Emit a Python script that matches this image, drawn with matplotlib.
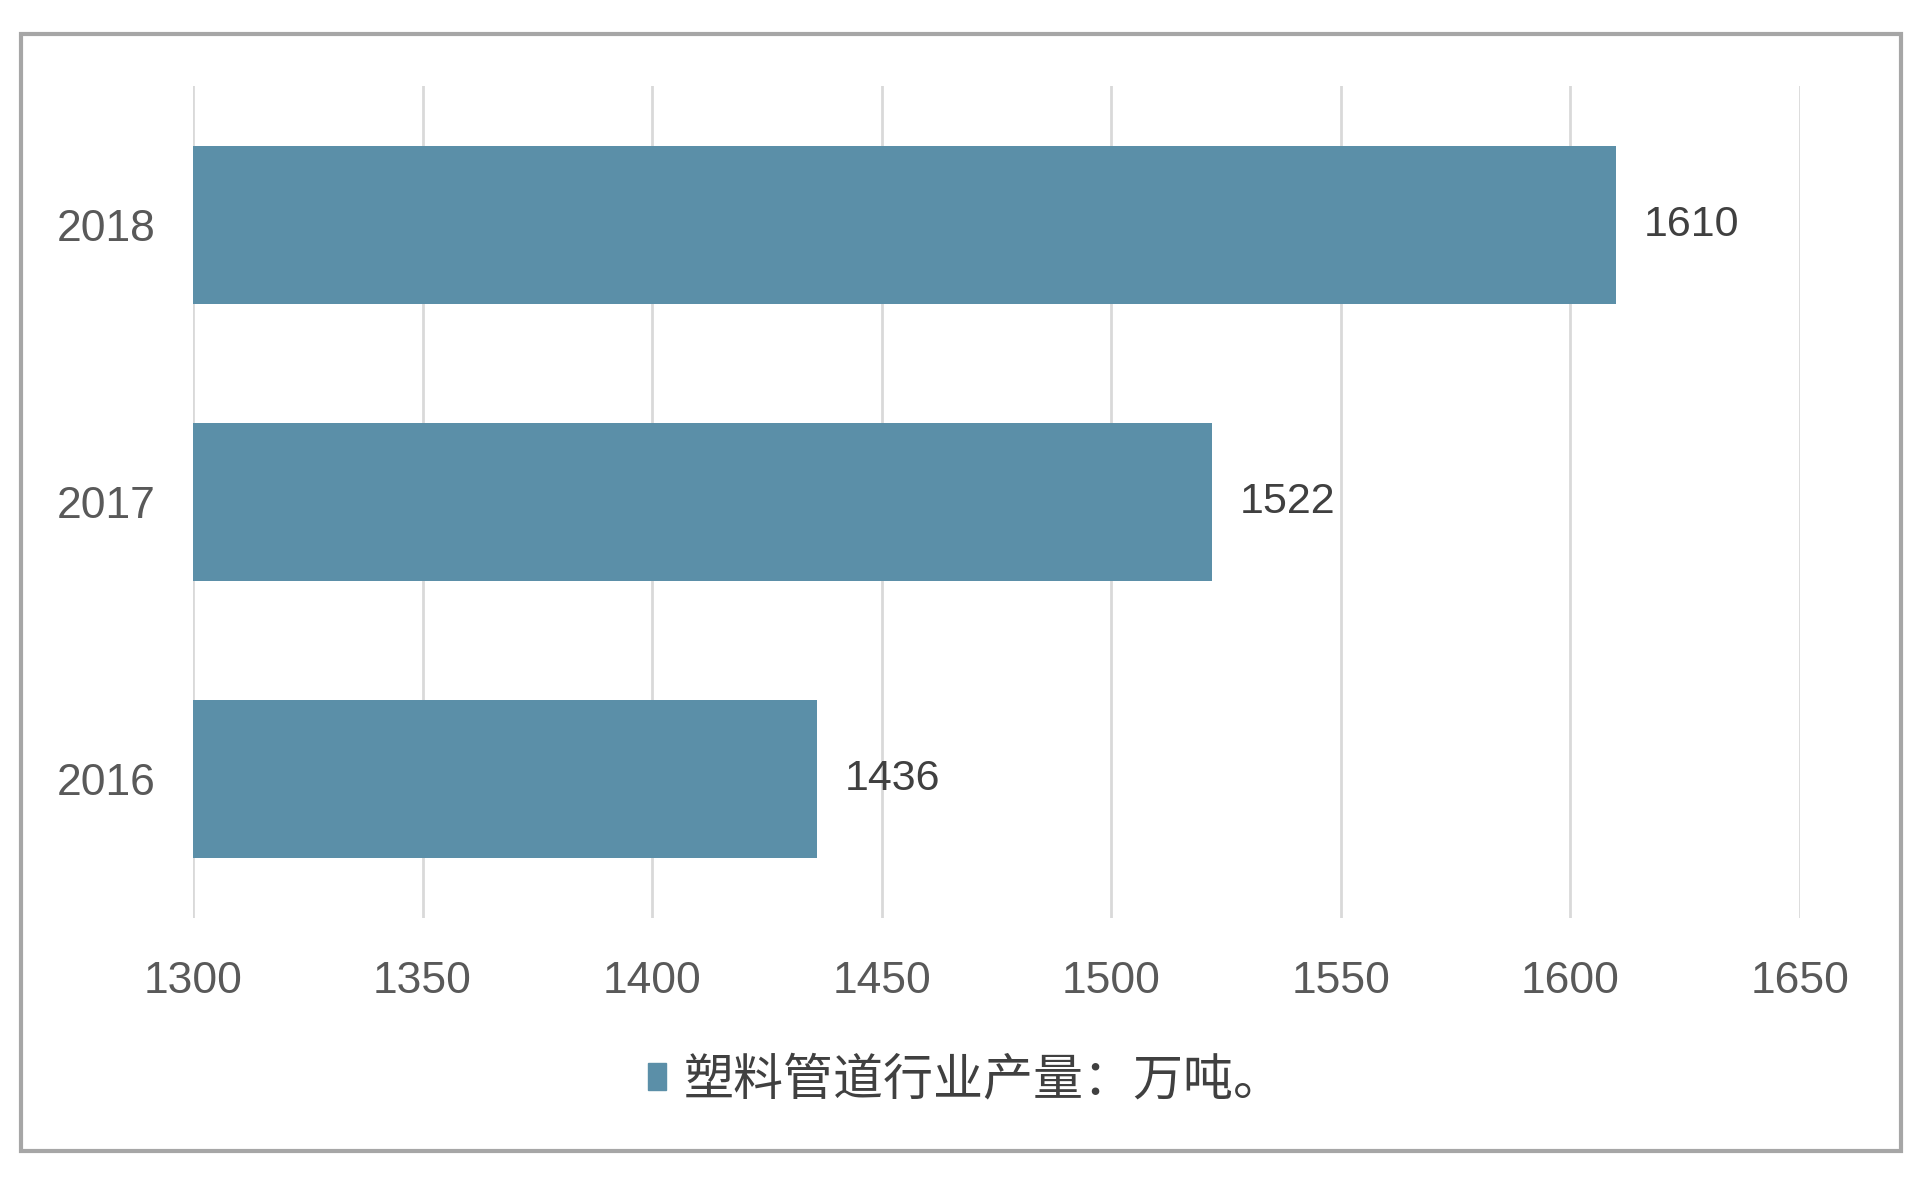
import matplotlib.pyplot as plt
from matplotlib.patches import Rectangle, Patch

years = ["2016", "2017", "2018"]
output = [1436, 1522, 1610]
xticks = [1300, 1350, 1400, 1450, 1500, 1550, 1600, 1650]
legend_label = "塑料管道行业产量：万吨。"

bar_color = "#5B8FA8"
num_font = ["Liberation Sans", "DejaVu Sans"]
cjk_font = ["Noto Sans CJK SC", "DejaVu Sans"]

fig = plt.figure(figsize=(19.2, 11.78), dpi=100)

# outer frame
fig.patches.append(Rectangle((0.011, 0.023), 0.979, 0.948, transform=fig.transFigure,
                             fill=False, edgecolor="#A6A6A6", linewidth=3, zorder=0))

ax = fig.add_axes([0.1005, 0.2207, 0.837, 0.7063])
ax.barh(years, output, left=0, height=0.57, color=bar_color, zorder=3)
ax.set_xlim(1300, 1650)
ax.set_ylim(-0.5, 2.5)
ax.set_xticks(xticks)
ax.grid(axis="x", color="#D9D9D9", linewidth=2, zorder=0)
for s in ax.spines.values():
    s.set_visible(False)
ax.tick_params(length=0, labelsize=32, colors="#595959", pad=27)
ax.tick_params(axis="x", pad=31)
for lab in ax.get_xticklabels() + ax.get_yticklabels():
    lab.set_family(num_font)

for i, v in enumerate(output):
    ax.text(v + 6, i, str(v), va="center", ha="left", fontsize=31,
            color="#404040", family=num_font)

leg = fig.legend(handles=[Patch(color=bar_color, label=legend_label)],
                 loc="center", bbox_to_anchor=(0.503, 0.083), frameon=False,
                 handlelength=0.35, handleheight=0.45, handletextpad=0.35,
                 prop={"family": cjk_font, "size": 36})
for t in leg.get_texts():
    t.set_color("#404040")

fig.savefig("out.png", dpi=100)
